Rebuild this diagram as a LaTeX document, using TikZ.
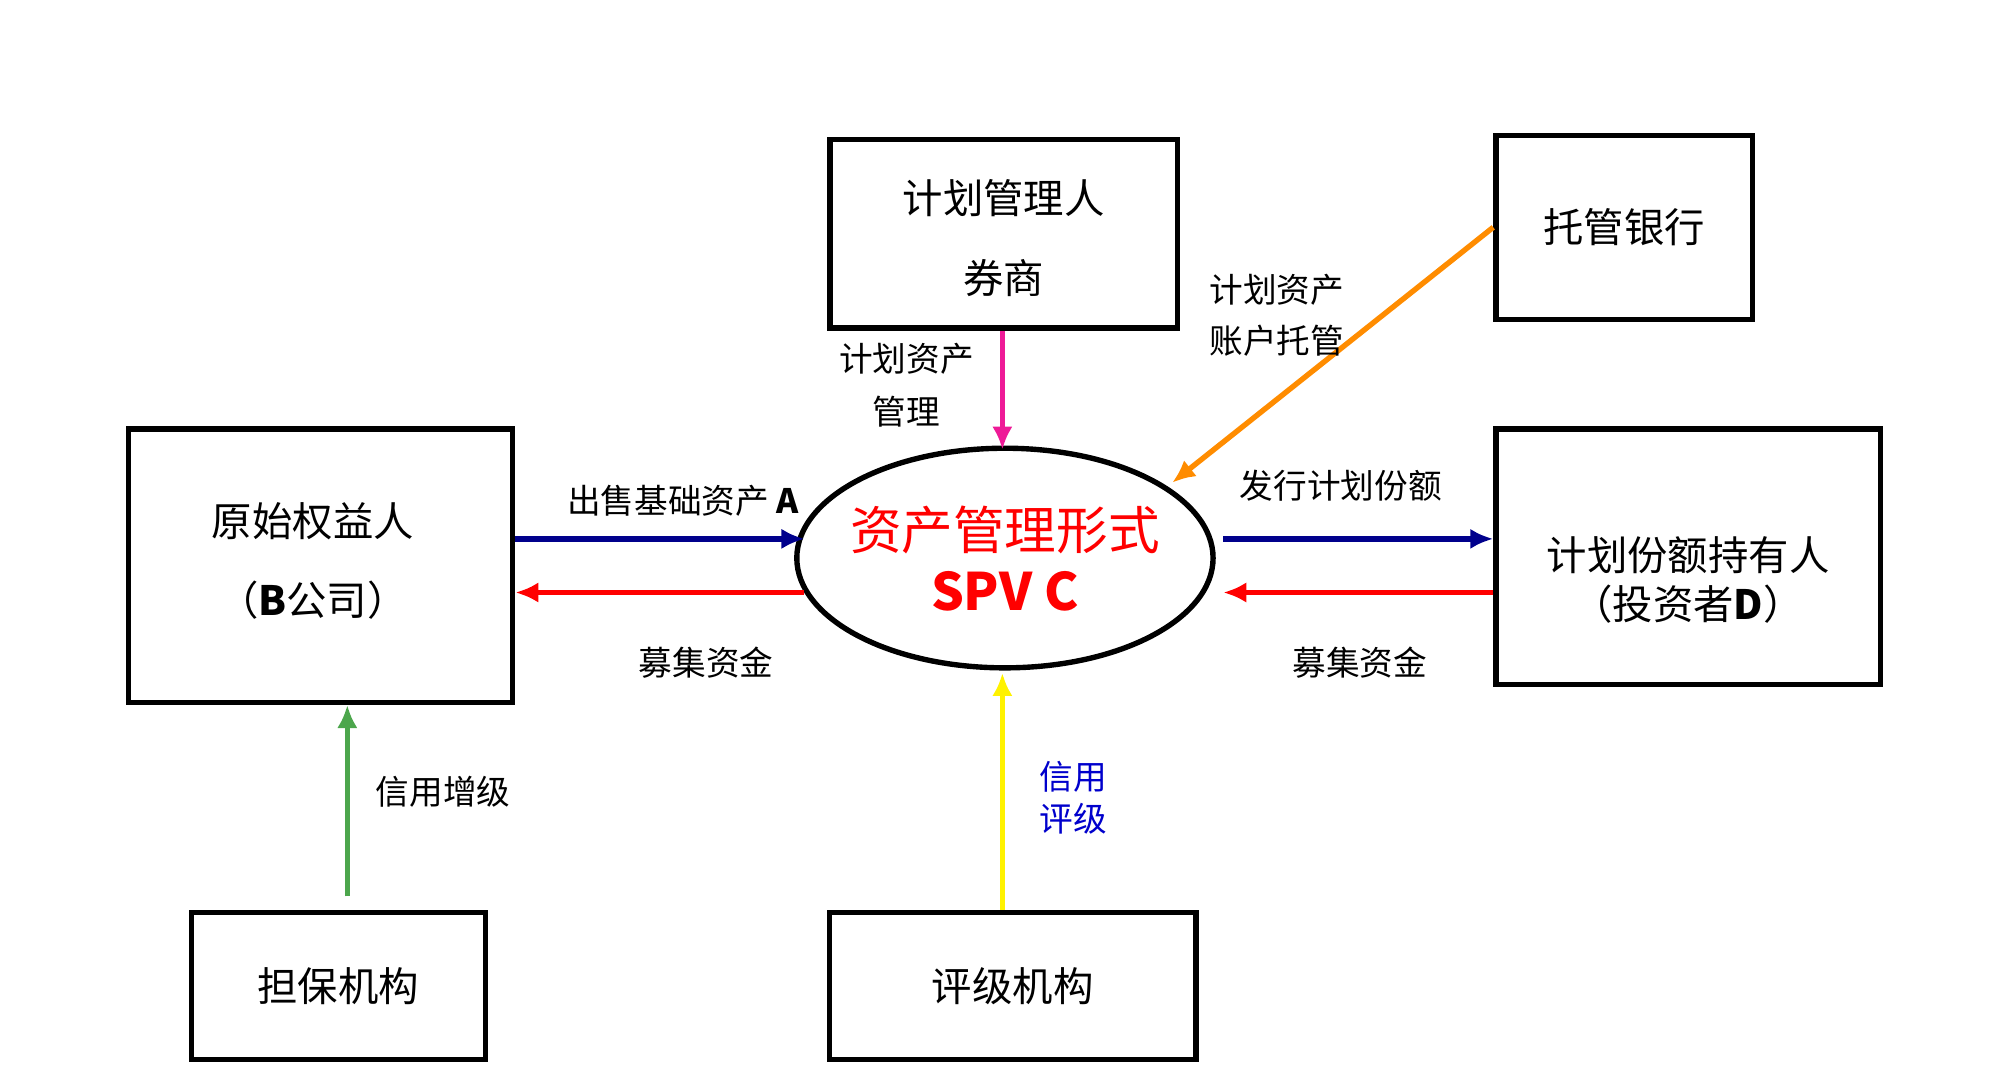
\documentclass[tikz,border=0pt]{standalone}
\usepackage{fontspec}
\setmainfont{Noto Sans CJK SC}
\usetikzlibrary{arrows.meta}

\tikzset{
  box/.style={draw, line width=1.2pt, inner sep=0pt},
  lab/.style={font=\fontsize{7.5}{9}\selectfont},
  flow/.style={line width=1.2pt, -{Latex[length=1.8mm,width=1.6mm]}}
}

\begin{document}
\begin{tikzpicture}[x=0.1mm, y=-0.1mm]
        \useasboundingbox (0,0) rectangle (1560,847);

        % boxes
        \node[box, minimum width=27.2mm, minimum height=14.8mm] (mgr) at (786,183) {};
        \node[font=\fontsize{9}{11}\selectfont] at (786,155) {计划管理人};
        \node[font=\fontsize{9}{11}\selectfont] at (786,218) {券商};
        \node[box, minimum width=20.1mm, minimum height=14.4mm, font=\fontsize{9}{11}\selectfont] (bank) at (1272,178) {托管银行};
        \node[box, minimum width=30.1mm, minimum height=21.4mm] (orig) at (251,443) {};
        \node[font=\fontsize{9}{11}\selectfont] at (245,408) {原始权益人};
        \node[font=\fontsize{9}{11}\selectfont] at (245,470) {（\textbf{B}公司）};
        \node[box, minimum width=30.1mm, minimum height=20mm] (inv) at (1322,436) {};
        \node[font=\fontsize{9}{11}\selectfont] at (1322,435) {计划份额持有人};
        \node[font=\fontsize{9}{11}\selectfont] at (1322,473) {（投资者\textbf{D}）};
        \node[box, minimum width=23mm, minimum height=11.5mm, font=\fontsize{9}{11}\selectfont] (guar) at (265,772) {担保机构};
        \node[box, minimum width=28.7mm, minimum height=11.5mm, font=\fontsize{9}{11}\selectfont] (rate) at (793,772) {评级机构};

        % SPV
        \draw[line width=1.2pt] (787,437) ellipse (16.3mm and 8.6mm);
        \coordinate (spv) at (785,437);
        \node[text=red, font=\fontsize{11.5}{13}\selectfont] at (787,415) {资产管理形式};
        \node[text=red, font=\fontsize{11.5}{13}\selectfont\bfseries] at (787,463) {SPV C};

        % connectors
        \draw[flow, magenta!90!white] (mgr.south -| spv) -- ++(0,93);
        \draw[flow, orange!90!yellow] (bank.west) -- (918,378);
        \draw[flow, blue!55!black] (orig.east |- 0,422) -- (630,422);
        \draw[flow, red] (630,464) -- (orig.east |- 0,464);
        \draw[flow, blue!55!black] (958,422) -- (inv.west |- 0,422);
        \draw[flow, red] (inv.west |- 0,464) -- (958,464);
        \draw[flow, green!50!black!70!white] (272,702) -- (orig.south -| 272,0);
        \draw[flow, yellow] (rate.north -| spv) -- (785,527);

        % labels
        \node[lab] at (710,281) {计划资产};
        \node[lab] at (710,322) {管理};
        \node[lab] at (1000,227) {计划资产};
        \node[lab] at (1000,267) {账户托管};
        \node[lab] at (535,392) {出售基础资产 \textbf{A}};
        \node[lab] at (553,519) {募集资金};
        \node[lab] at (1050,380) {发行计划份额};
        \node[lab] at (1065,519) {募集资金};
        \node[lab] at (347,620) {信用增级};
        \node[lab, text=blue!80!black, anchor=west] at (802,608) {信用};
        \node[lab, text=blue!80!black, anchor=west] at (802,641) {评级};
\end{tikzpicture}
\end{document}
